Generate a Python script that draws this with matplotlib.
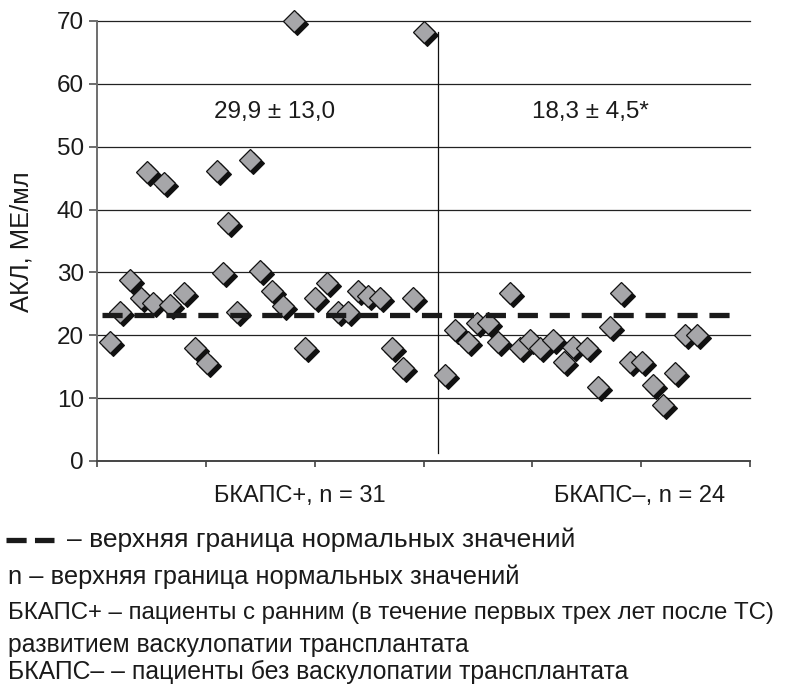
import matplotlib
matplotlib.use('Agg')
import matplotlib.pyplot as plt
from matplotlib.lines import Line2D
from matplotlib.transforms import offset_copy

plt.rcParams['font.family'] = ['Liberation Sans', 'DejaVu Sans']
plt.rcParams['lines.scale_dashes'] = False

# ---- данные (оценка по рисунку) ----
plus_x = [1.2, 2.1, 3.0, 4.0, 4.6, 5.1, 6.2, 6.7, 8.0, 9.0, 10.1, 11.0, 11.6, 12.0, 12.9, 14.1,
          15.0, 16.1, 17.1, 18.1, 19.1, 20.0, 21.1, 22.1, 23.1, 24.0, 24.9, 26.0, 27.1, 28.1, 29.0, 30.0]
plus_akl = [18.9, 23.7, 28.8, 25.9, 46.0, 25.1, 44.2, 24.8, 26.7, 18.0, 15.6, 46.2, 29.9, 37.8, 23.7, 47.9,
            30.2, 27.0, 24.6, 70.0, 18.0, 26.0, 28.3, 23.7, 23.7, 27.0, 26.2, 26.0, 18.0, 14.8, 26.0, 68.3]
minus_x = [32.0, 32.9, 34.1, 34.9, 35.9, 36.8, 37.9, 38.9, 39.8, 40.7, 41.9, 42.9,
           43.7, 45.0, 46.0, 47.1, 48.1, 49.0, 50.1, 51.1, 52.0, 53.1, 54.0, 55.1]
minus_akl = [13.7, 20.8, 18.9, 22.0, 22.0, 18.9, 26.7, 18.0, 19.2, 18.0, 19.2, 15.8,
             18.1, 18.0, 11.8, 21.3, 26.7, 15.8, 15.8, 12.1, 8.9, 14.0, 20.0, 20.0]
norm_upper = 23.3
divider_x = 31.3
group_stats = ['29,9 ± 13,0', '18,3 ± 4,5*']
group_labels = ['БКАПС+, n = 31', 'БКАПС–, n = 24']

fig = plt.figure(figsize=(7.92, 6.87), dpi=100)
ax = fig.add_axes([0.1225, 0.329, 0.8245, 0.6405])
ax.set_xlim(0, 60)
ax.set_ylim(0, 70)

# сетка
for v in range(10, 71, 10):
    ax.plot([0, 60], [v, v], color='#222222', lw=0.9, zorder=1, clip_on=False)

# разделитель групп
ax.plot([divider_x, divider_x], [1.3, 68.3], color='#111111', lw=0.9, zorder=1)

# точки с тенью
xs = plus_x + minus_x
ys = plus_akl + minus_akl
shadow = offset_copy(ax.transData, fig=fig, x=3, y=-3, units='dots')
ax.plot(xs, ys, 'D', ms=10.8, color='#111111', mec='#111111', mew=0.8,
        transform=shadow, zorder=3, clip_on=False)
ax.plot(xs, ys, 'D', ms=10.8, color='#a6a6a9', mec='#111111', mew=0.9,
        zorder=4, clip_on=False)

# верхняя граница нормы
ax.plot([0.5, 59], [norm_upper, norm_upper], color='#1a1a1a', lw=3.8,
        dashes=(14.5, 8.5), zorder=5)

ax.text(16.3, 55.5, group_stats[0], fontsize=17.5, ha='center', va='center', color='#1a1a1a')
ax.text(45.3, 55.5, group_stats[1], fontsize=17.5, ha='center', va='center', color='#1a1a1a')

# оси
for s in ['top', 'right']:
    ax.spines[s].set_visible(False)
ax.spines['left'].set_color('#6e6e6e')
ax.spines['left'].set_linewidth(1.4)
ax.spines['bottom'].set_color('#444444')
ax.spines['bottom'].set_linewidth(1.4)
ax.set_yticks(range(0, 71, 10))
ax.set_xticks(range(0, 61, 10))
ax.set_xticklabels([])
ax.tick_params(axis='y', length=6, width=1.2, color='#555555', labelsize=17.5, pad=3.5,
               labelcolor='#1a1a1a')
ax.tick_params(axis='x', length=4.5, width=1.2, color='#444444')

fig.text(22 / 792, 1 - 242 / 687, 'АКЛ, МЕ/мл', rotation=90, fontsize=18.4,
         ha='center', va='center', color='#1a1a1a')

# подписи групп
fig.text(300 / 792, 1 - 496 / 687, group_labels[0], fontsize=17, ha='center', va='center', color='#1a1a1a')
fig.text(640 / 792, 1 - 496 / 687, group_labels[1], fontsize=17, ha='center', va='center', color='#1a1a1a')

# пояснения
ly = 1 - 540 / 687
fig.add_artist(Line2D([6 / 792, 54 / 792], [ly, ly], transform=fig.transFigure,
                      color='#1a1a1a', lw=3.8, dashes=(14.5, 6)))
fig.text(67 / 792, ly, '– верхняя граница нормальных значений', fontsize=19,
         ha='left', va='center', color='#1a1a1a')
notes = [
    (577, 'n – верхняя граница нормальных значений', 18.4),
    (613, 'БКАПС+ – пациенты с ранним (в течение первых трех лет после ТС)', 17.3),
    (645, 'развитием васкулопатии трансплантата', 17.8),
    (672, 'БКАПС– – пациенты без васкулопатии трансплантата', 17.8),
]
for py, t, fs in notes:
    fig.text(8 / 792, 1 - py / 687, t, fontsize=fs, ha='left', va='center', color='#1a1a1a')

fig.savefig('out.png', dpi=100, facecolor='white')
